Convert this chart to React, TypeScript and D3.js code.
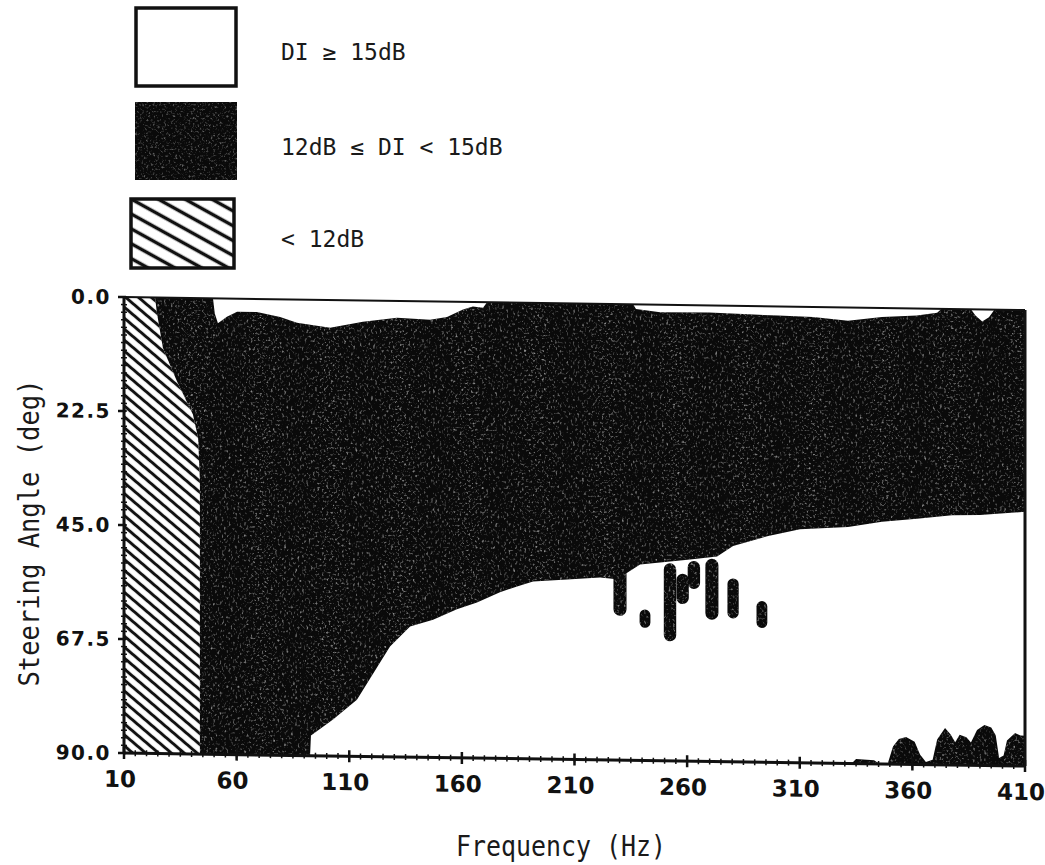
import React from "react";
import * as d3 from "d3";

// axis ticks
const freqTicks = [10, 60, 110, 160, 210, 260, 310, 360, 410];
const angleTicks = [0, 22.5, 45, 67.5, 90];

// right edge of the < 12dB band, [angle deg, freq Hz]
const hatchEdge: [number, number][] = [
  [0, 23.8], [3, 24.6], [10, 27.3], [16.5, 33.5], [23, 40.6], [27.6, 42.9], [36, 43.7], [90, 43.7],
];

// upper edge of the 12-15dB band, [freq, angle]
const bandTop: [number, number][] = [
  [10, 0], [49.5, 0], [50.3, 3], [51.7, 4.9], [55.7, 3.6], [60.2, 2.6], [69, 2.6], [79.3, 3.5],
  [86.8, 4.6], [101.5, 5.5], [116.1, 4.2], [131.2, 3.3], [145.9, 3.6], [153.4, 3.0], [160.5, 1.5],
  [164.9, 0.9], [169.4, 1.1], [171.2, 0], [236, 0], [237.3, 0.9], [248, 1.5], [269.7, 1.4],
  [284.8, 1.6], [300.3, 1.8], [315.9, 2.0], [331.4, 2.6], [346.5, 1.8], [362, 1.4], [371, 0.8],
  [373, 0], [386, 0], [388, 1.2], [391, 2.4], [394, 1.5], [396.5, 0], [410, 0],
];

// lower edge of the 12-15dB band, [freq, angle]
const bandBottom: [number, number][] = [
  [10, 90], [92.6, 90], [93, 86], [102.8, 82.8], [113.4, 78.8], [122.3, 72.4], [128.1, 68.2],
  [137, 64.2], [147.2, 62.8], [157.8, 60.7], [166.7, 59.3], [176.9, 57.2], [184.5, 56],
  [191.6, 55], [206.7, 54.5], [221.3, 54], [228.9, 54.3], [239.1, 51.3], [261.3, 50.2],
  [273.3, 49.5], [280.4, 47.4], [295.5, 45.4], [310.1, 43.9], [331.4, 43.3], [346.5, 42.2],
  [362, 41.5], [377.6, 40.7], [390, 40.6], [410, 39.8],
];

// drips hanging below the band, [freq, angle from, angle to, width Hz]
const drips: [number, number, number, number][] = [
  [230.2, 52, 61.5, 5.8],
  [241.3, 60.2, 63.8, 4.8],
  [252.4, 51, 66.4, 5.5],
  [258, 53, 59, 5.5],
  [263, 50.5, 56, 5.5],
  [271, 50, 62, 5.8],
  [280.4, 53.8, 61.7, 5],
  [293.2, 58.2, 63.5, 4.8],
];

// 12-15dB patch along 90 deg at the high end, [freq, angle]
const cornerEdge: [number, number][] = [
  [333, 90], [335, 89.1], [343, 89.3], [345.5, 90], [349, 90], [351.4, 86.5], [354, 85],
  [357.2, 84.6], [361, 85.5], [363.4, 88], [366, 89.5], [369, 89], [371, 85], [374.5, 82.7],
  [377, 84], [379, 85.5], [381, 84], [384, 84.5], [386, 85.5], [388.7, 83], [392, 82],
  [395, 82.5], [397, 84], [398.5, 88.5], [400.5, 88], [402, 85], [405.6, 83.5], [408, 84], [410, 84],
];

const legendItems = ["DI \u2265 15dB", "12dB \u2264 DI < 15dB", "< 12dB"];

const W = 1045;
const H = 865;

export default function App() {
  const x = d3.scaleLinear().domain([10, 410]).range([124, 1025]);
  const y = d3.scaleLinear().domain([0, 90]).range([297, 753]);
  const x0 = x(10);
  const x1 = x(410);

  const line = d3.line<[number, number]>().x(d => x(d[0])).y(d => y(d[1]));
  const bandPath = line([...bandTop, ...bandBottom.slice().reverse()]) + "Z";
  const hatchPath = line([[10, 0], ...hatchEdge.map(([a, f]) => [f, a] as [number, number]), [10, 90]]) + "Z";
  const cornerPath = d3.area<[number, number]>()
    .x(d => x(d[0]))
    .y0(y(90))
    .y1(d => y(d[1]))(cornerEdge) as string;

  const minorAngles = d3.range(0, 90.001, 1.5);
  const minorFreqs = d3.range(10, 410.001, 5);

  const mono = "'DejaVu Sans Mono', monospace";
  const boldSans = "'DejaVu Sans', sans-serif";

  const darkShapes = (
    <>
      <path d={bandPath} />
      <path d={cornerPath} />
      {drips.map(([f, a0, a1, w], i) => (
        <rect key={i} x={x(f - w / 2)} y={y(a0)} width={x(f + w / 2) - x(f - w / 2)}
          height={y(a1) - y(a0)} rx={(x(w) - x(0)) / 2} />
      ))}
    </>
  );

  return (
    <svg width={W} height={H} style={{ position: "absolute", left: 0, top: 0, background: "#fff" }}>
      <defs>
        <pattern id="hatch" patternUnits="userSpaceOnUse" width="12" height="8.4" patternTransform="rotate(40)">
          <line x1="0" y1="4.2" x2="12" y2="4.2" stroke="#111" strokeWidth="3" />
        </pattern>
        <pattern id="hatchLegend" patternUnits="userSpaceOnUse" width="12" height="13" patternTransform="rotate(29)">
          <line x1="0" y1="6.5" x2="12" y2="6.5" stroke="#111" strokeWidth="3.5" />
        </pattern>
        <filter id="speck" x="0" y="0" width="1" height="1">
          <feTurbulence type="fractalNoise" baseFrequency="0.45" numOctaves="2" seed="7" result="n" />
          <feColorMatrix in="n" type="matrix"
            values="0 0 0 0 0.55  0 0 0 0 0.55  0 0 0 0 0.55  3.6 0 0 0 -1.95" />
        </filter>
        <clipPath id="darkClip">{darkShapes}</clipPath>
      </defs>

      {/* legend */}
      <g>
        <rect x={136} y={8} width={100} height={78} fill="#fff" stroke="#111" strokeWidth={3.5} />
        <rect x={135} y={102} width={102} height={78} fill="#0a0a0a" />
        <rect x={135} y={102} width={102} height={78} filter="url(#speck)" opacity={0.45} />
        <rect x={131} y={199} width={103} height={69} fill="url(#hatchLegend)" stroke="#111" strokeWidth={3.5} />
        {legendItems.map((t, i) => (
          <text key={t} x={281} y={[60, 155, 247][i]} fontFamily={mono} fontSize={23}
            fill="#1a1a1a">{t}</text>
        ))}
      </g>

      {/* plot, slightly sheared like the scanned page */}
      <g transform={`translate(${x0},0) skewY(0.83) translate(${-x0},0)`}>
        <g fill="#0a0a0a">{darkShapes}</g>
        <rect x={x0} y={y(0)} width={x1 - x0} height={y(90) - y(0)} filter="url(#speck)"
          clipPath="url(#darkClip)" opacity={0.7} />
        <path d={hatchPath} fill="#fff" />
        <path d={hatchPath} fill="url(#hatch)" />

        {/* frame */}
        <line x1={x0} x2={x1} y1={y(0)} y2={y(0)} stroke="#111" strokeWidth={2} />
        <line x1={x1} x2={x1} y1={y(0)} y2={y(90)} stroke="#111" strokeWidth={3} />
        <line x1={x0} x2={x0} y1={y(0)} y2={y(90)} stroke="#111" strokeWidth={3} />
        <line x1={x0} x2={x1} y1={y(90)} y2={y(90)} stroke="#111" strokeWidth={3} />

        {/* y axis ticks */}
        {minorAngles.map(a => (
          <line key={"ma" + a} x1={x0 - 3} x2={x0 + 3} y1={y(a)} y2={y(a)} stroke="#111" strokeWidth={1.5} />
        ))}
        {angleTicks.map(a => (
          <g key={"a" + a}>
            <line x1={x0 - 6} x2={x0 + 2} y1={y(a)} y2={y(a)} stroke="#111" strokeWidth={2.5} />
            <text x={111} y={y(a)} dy="0.36em" textAnchor="end" fontFamily={boldSans}
              fontWeight="bold" fontSize={20} letterSpacing={1.5} fill="#111">{a.toFixed(1)}</text>
          </g>
        ))}

        {/* x axis ticks */}
        {minorFreqs.map(f => (
          <line key={"mf" + f} x1={x(f)} x2={x(f)} y1={y(90) - 3} y2={y(90) + 3} stroke="#111" strokeWidth={1.5} />
        ))}
        {freqTicks.map(f => (
          <g key={"f" + f}>
            <line x1={x(f)} x2={x(f)} y1={y(90) - 6} y2={y(90) + 6} stroke="#111" strokeWidth={2.5} />
            <text x={x(f) - 4} y={y(90) + 34} textAnchor="middle" fontFamily={boldSans}
              fontWeight="bold" fontSize={23} fill="#111">{f}</text>
          </g>
        ))}
      </g>

      {/* axis titles */}
      <text x={456} y={856} fontFamily={mono} fontSize={28} textLength={210}
        lengthAdjust="spacingAndGlyphs" fill="#1a1a1a">Frequency (Hz)</text>
      <text transform="translate(39,533) rotate(-90)" textAnchor="middle" fontFamily={mono}
        fontSize={28} textLength={307} lengthAdjust="spacingAndGlyphs" fill="#1a1a1a">
        Steering Angle (deg)
      </text>
    </svg>
  );
}
